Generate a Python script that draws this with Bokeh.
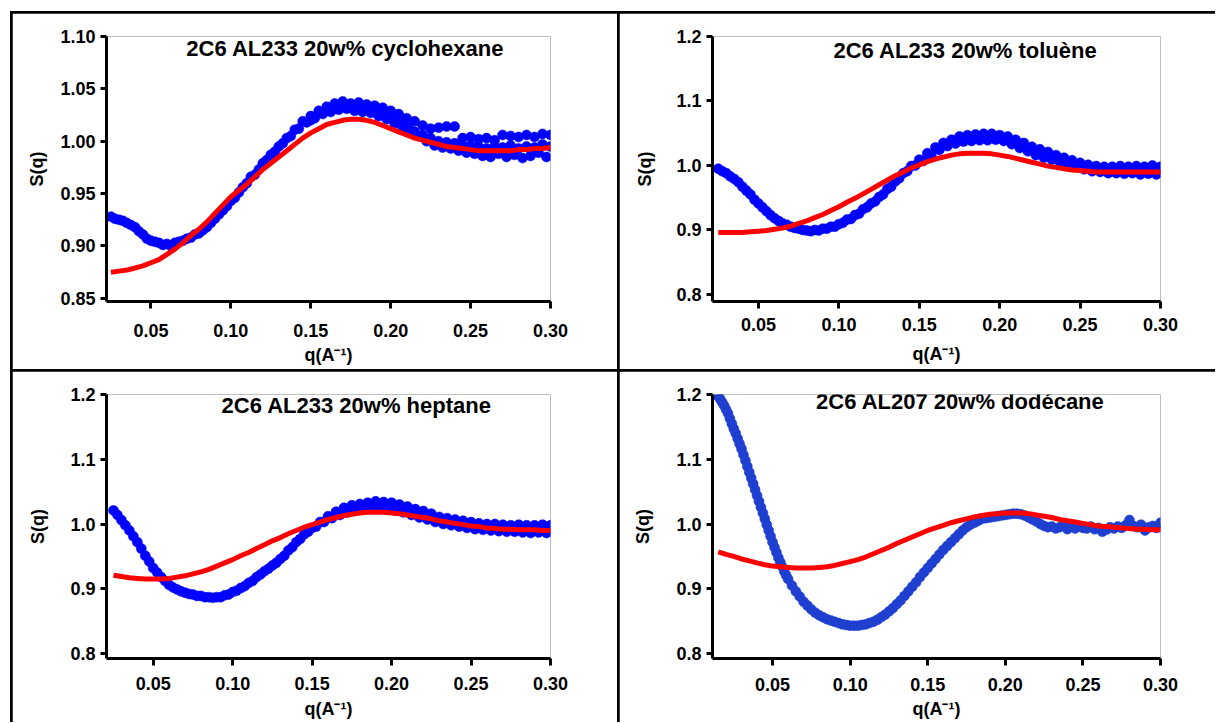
from bokeh.plotting import figure
from bokeh.models import GridBox, Spacer, Column, Row, Label, FixedTicker, NumeralTickFormatter, Range1d
from bokeh.embed import file_html
from bokeh.resources import INLINE

# ---------------- data ----------------
q_main = [0.025, 0.0275, 0.03, 0.0325, 0.035, 0.0375, 0.04, 0.0425, 0.045, 0.0475,
          0.05, 0.0525, 0.055, 0.0575, 0.06, 0.0625, 0.065, 0.0675, 0.07, 0.0725,
          0.075, 0.0775, 0.08, 0.0825, 0.085, 0.0875, 0.09, 0.0925, 0.095, 0.0975,
          0.1, 0.1025, 0.105, 0.1075, 0.11, 0.1125, 0.115, 0.1175, 0.12, 0.1225,
          0.125, 0.1275, 0.13, 0.1325, 0.135, 0.1375, 0.14, 0.1425, 0.145, 0.1475,
          0.15, 0.1525, 0.155, 0.1575, 0.16, 0.1625, 0.165, 0.1675, 0.17, 0.1725,
          0.175, 0.1775, 0.18, 0.1825, 0.185, 0.1875, 0.19, 0.1925, 0.195, 0.1975,
          0.2, 0.2025, 0.205, 0.2075, 0.21, 0.2125, 0.215, 0.2175, 0.22, 0.2225,
          0.225, 0.2275, 0.23, 0.2325, 0.235, 0.2375, 0.24, 0.2425, 0.245, 0.2475,
          0.25, 0.2525, 0.255, 0.2575, 0.26, 0.2625, 0.265, 0.2675, 0.27, 0.2725,
          0.275, 0.2775, 0.28, 0.2825, 0.285, 0.2875, 0.29, 0.2925, 0.295, 0.2975, 0.3]

q_dod_low = [0.015, 0.01625, 0.0175, 0.01875, 0.02, 0.02125, 0.0225, 0.02375, 0.025, 0.02625,
             0.0275, 0.02875, 0.03, 0.03125, 0.0325, 0.03375, 0.035, 0.03625, 0.0375, 0.03875,
             0.04, 0.04125, 0.0425, 0.04375, 0.045, 0.04625, 0.0475, 0.04875, 0.05, 0.05125,
             0.0525, 0.05375, 0.055, 0.05625, 0.0575, 0.05875, 0.06]
q_dod = q_dod_low + q_main[15:]

q_fit = [0.025, 0.03, 0.035, 0.04, 0.045, 0.05, 0.055, 0.06, 0.065, 0.07,
         0.075, 0.08, 0.085, 0.09, 0.095, 0.1, 0.105, 0.11, 0.115, 0.12,
         0.125, 0.13, 0.135, 0.14, 0.145, 0.15, 0.155, 0.16, 0.165, 0.17,
         0.175, 0.18, 0.185, 0.19, 0.195, 0.2, 0.205, 0.21, 0.215, 0.22,
         0.225, 0.23, 0.235, 0.24, 0.245, 0.25, 0.255, 0.26, 0.265, 0.27,
         0.275, 0.28, 0.285, 0.29, 0.295, 0.3]
q_fit_dod = [0.015, 0.02] + q_fit

# cyclohexane
s_cyclohexane = [0.928, 0.926, 0.925, 0.924, 0.922, 0.920, 0.918, 0.914, 0.911, 0.907,
                 0.905, 0.904, 0.903, 0.901, 0.902, 0.900, 0.903, 0.904, 0.905, 0.907,
                 0.908, 0.911, 0.912, 0.915, 0.918, 0.922, 0.926, 0.930, 0.934, 0.938,
                 0.943, 0.946, 0.951, 0.956, 0.960, 0.966, 0.968, 0.973, 0.979, 0.982,
                 0.987, 0.990, 0.995, 0.998, 1.003, 1.005, 1.011, 1.012, 1.019, 1.018,
                 1.024, 1.022, 1.029, 1.026, 1.033, 1.028, 1.036, 1.030, 1.038, 1.031,
                 1.036, 1.029, 1.037, 1.028, 1.035, 1.027, 1.034, 1.024, 1.032, 1.021,
                 1.029, 1.017, 1.026, 1.013, 1.022, 1.010, 1.019, 1.005, 1.015, 1.000,
                 1.012, 0.996, 1.013, 0.994, 1.014, 0.993, 1.014, 0.991, 1.003, 0.989,
                 1.004, 0.988, 1.002, 0.986, 1.003, 0.985, 1.001, 0.988, 1.006, 0.985,
                 1.005, 0.987, 1.004, 0.984, 1.006, 0.986, 1.004, 0.989, 1.007, 0.985, 1.006]
q_cyclohexane_b = q_fit[25:]
s_cyclohexane_b = [1.020, 1.027, 1.029, 1.032, 1.033, 1.032, 1.034, 1.030, 1.031, 1.026,
                   1.023, 1.020, 1.014, 1.009, 1.006, 1.003, 1.000, 0.999, 0.998, 0.996,
                   0.996, 0.995, 0.993, 0.995, 0.994, 0.996, 0.993, 0.995, 0.994, 0.997, 0.995]
fit_cyclohexane = [0.875, 0.876, 0.877, 0.879, 0.881, 0.884, 0.887, 0.892, 0.897, 0.903,
                   0.910, 0.916, 0.923, 0.931, 0.939, 0.947, 0.953, 0.959, 0.966, 0.973,
                   0.979, 0.985, 0.991, 0.997, 1.003, 1.008, 1.012, 1.016, 1.018, 1.020,
                   1.021, 1.021, 1.020, 1.018, 1.015, 1.012, 1.009, 1.006, 1.003, 1.001,
                   0.999, 0.997, 0.995, 0.994, 0.993, 0.992, 0.991, 0.991, 0.991, 0.991,
                   0.991, 0.992, 0.992, 0.993, 0.993, 0.994]

# toluene
s_toluene = [0.995, 0.991, 0.988, 0.983, 0.979, 0.974, 0.967, 0.961, 0.955, 0.947,
             0.941, 0.935, 0.929, 0.923, 0.918, 0.914, 0.910, 0.908, 0.905, 0.903,
             0.902, 0.900, 0.899, 0.898, 0.900, 0.899, 0.902, 0.902, 0.905, 0.905,
             0.909, 0.911, 0.916, 0.917, 0.923, 0.925, 0.932, 0.935, 0.941, 0.944,
             0.951, 0.955, 0.963, 0.967, 0.975, 0.980, 0.988, 0.991, 0.999, 1.000,
             1.009, 1.007, 1.019, 1.015, 1.028, 1.024, 1.035, 1.030, 1.040, 1.034,
             1.045, 1.037, 1.047, 1.038, 1.048, 1.039, 1.049, 1.039, 1.049, 1.040,
             1.047, 1.038, 1.045, 1.033, 1.040, 1.027, 1.035, 1.022, 1.029, 1.016,
             1.025, 1.012, 1.021, 1.009, 1.016, 1.005, 1.012, 1.002, 1.008, 0.998,
             1.004, 0.994, 1.001, 0.991, 0.999, 0.990, 0.998, 0.988, 0.998, 0.988,
             0.999, 0.987, 0.998, 0.988, 0.999, 0.986, 0.998, 0.987, 1.000, 0.986, 0.998]
fit_toluene = [0.896, 0.896, 0.896, 0.896, 0.897, 0.898, 0.899, 0.901, 0.903, 0.906,
               0.910, 0.914, 0.919, 0.924, 0.930, 0.936, 0.943, 0.949, 0.956, 0.963,
               0.970, 0.977, 0.984, 0.990, 0.996, 1.001, 1.006, 1.010, 1.013, 1.016,
               1.018, 1.019, 1.019, 1.019, 1.018, 1.016, 1.014, 1.011, 1.008, 1.005,
               1.002, 0.999, 0.997, 0.995, 0.993, 0.992, 0.991, 0.990, 0.990, 0.990,
               0.990, 0.990, 0.990, 0.990, 0.990, 0.990]

# heptane
s_heptane = [1.021, 1.014, 1.006, 0.998, 0.990, 0.981, 0.972, 0.962, 0.951, 0.942,
             0.932, 0.925, 0.918, 0.912, 0.906, 0.902, 0.899, 0.896, 0.894, 0.892,
             0.891, 0.889, 0.889, 0.887, 0.887, 0.886, 0.887, 0.887, 0.890, 0.891,
             0.895, 0.897, 0.901, 0.904, 0.909, 0.912, 0.918, 0.922, 0.927, 0.931,
             0.936, 0.940, 0.946, 0.951, 0.959, 0.964, 0.972, 0.977, 0.984, 0.988,
             0.994, 0.996, 1.003, 1.003, 1.012, 1.009, 1.019, 1.014, 1.025, 1.018,
             1.029, 1.021, 1.031, 1.023, 1.033, 1.024, 1.035, 1.024, 1.034, 1.023,
             1.033, 1.021, 1.030, 1.018, 1.027, 1.014, 1.023, 1.010, 1.020, 1.007,
             1.016, 1.003, 1.011, 1.000, 1.009, 0.998, 1.007, 0.996, 1.005, 0.994,
             1.003, 0.992, 1.001, 0.991, 1.000, 0.990, 1.000, 0.989, 0.999, 0.988,
             0.998, 0.988, 0.999, 0.987, 0.998, 0.986, 0.998, 0.987, 0.999, 0.986, 0.998]
fit_heptane = [0.921, 0.919, 0.917, 0.916, 0.915, 0.915, 0.915, 0.916, 0.918, 0.920,
               0.923, 0.926, 0.930, 0.935, 0.940, 0.945, 0.951, 0.956, 0.962, 0.968,
               0.974, 0.979, 0.985, 0.990, 0.995, 0.999, 1.003, 1.007, 1.010, 1.013,
               1.015, 1.017, 1.018, 1.018, 1.018, 1.017, 1.016, 1.014, 1.012, 1.010,
               1.008, 1.005, 1.003, 1.001, 0.999, 0.997, 0.996, 0.994, 0.993, 0.992,
               0.992, 0.991, 0.991, 0.991, 0.990, 0.990]

# dodecane
s_dodecane = [1.197, 1.193, 1.188, 1.183, 1.177, 1.171, 1.163, 1.155, 1.147, 1.140,
              1.132, 1.124, 1.116, 1.107, 1.098, 1.089, 1.080, 1.071, 1.062, 1.053,
              1.044, 1.035, 1.026, 1.017, 1.008, 0.999, 0.990, 0.981, 0.972, 0.964,
              0.956, 0.948, 0.941, 0.934, 0.927, 0.921, 0.915,
              0.905, 0.896, 0.888, 0.880, 0.874, 0.868, 0.863, 0.859, 0.856, 0.853,
              0.851, 0.849, 0.847, 0.845, 0.844, 0.843, 0.843, 0.843, 0.844, 0.845,
              0.847, 0.849, 0.852, 0.856, 0.860, 0.865, 0.870, 0.876, 0.882, 0.889,
              0.896, 0.903, 0.910, 0.918, 0.925, 0.932, 0.939, 0.946, 0.953, 0.960,
              0.966, 0.972, 0.978, 0.984, 0.990, 0.995, 0.999, 1.002, 1.005, 1.008,
              1.009, 1.010, 1.011, 1.012, 1.013, 1.014, 1.015, 1.016, 1.016, 1.015,
              1.013, 1.010, 1.007, 1.004, 1.000, 0.997, 0.995, 0.996, 0.993, 0.995,
              0.998, 0.992, 0.996, 0.993, 0.997, 0.994, 0.993, 0.996, 0.992, 0.994,
              0.988, 0.991, 0.995, 0.993, 0.996, 0.994, 0.998, 1.006, 0.997, 0.995,
              0.999, 0.990, 0.995, 0.997, 0.994, 1.002]
fit_dodecane = [0.957, 0.953, 0.950, 0.946, 0.943, 0.940, 0.937, 0.935, 0.934, 0.933,
                0.932, 0.932, 0.932, 0.933, 0.934, 0.936, 0.939, 0.942, 0.945, 0.949,
                0.954, 0.959, 0.964, 0.970, 0.975, 0.980, 0.985, 0.990, 0.994, 0.998,
                1.002, 1.005, 1.008, 1.011, 1.013, 1.015, 1.016, 1.017, 1.017, 1.017,
                1.016, 1.014, 1.012, 1.010, 1.007, 1.005, 1.003, 1.001, 0.999, 0.997,
                0.996, 0.995, 0.994, 0.993, 0.992, 0.992, 0.991, 0.991]

titles = ["2C6 AL233 20w% cyclohexane", "2C6 AL233 20w% toluène",
          "2C6 AL233 20w% heptane", "2C6 AL207 20w% dodécane"]
x_ticks = [0.05, 0.10, 0.15, 0.20, 0.25, 0.30]
y_ticks_fine = [0.85, 0.90, 0.95, 1.00, 1.05, 1.10]
y_ticks_coarse = [0.8, 0.9, 1.0, 1.1, 1.2]

assert len(q_main) == len(s_cyclohexane) == len(s_toluene) == len(s_heptane)
assert len(q_dod) == len(s_dodecane)
assert len(q_fit) == len(fit_cyclohexane) == len(fit_toluene) == len(fit_heptane)
assert len(q_fit_dod) == len(fit_dodecane)
assert len(q_cyclohexane_b) == len(s_cyclohexane_b)

FONT = "Liberation Sans"
RED = "#ff0000"


def make_panel(title, series, q_f, s_f, blue, x0, y0, y1, yticks, yfmt,
               w, h, mb_l, mb_r, mb_t, mb_b, title_q, title_s,
               x_std, xlab_std, ylab_std):
    p = figure(width=w, height=h, x_range=Range1d(x0, 0.30), y_range=Range1d(y0, y1),
               output_backend="svg", toolbar_location=None,
               min_border_left=mb_l, min_border_right=mb_r,
               min_border_top=mb_t, min_border_bottom=mb_b)
    p.outline_line_color = None
    p.grid.visible = False
    p.background_fill_color = "white"
    p.border_fill_color = "white"
    for qs, ss in series:
        p.scatter(qs, ss, marker="circle", size=10, fill_color=blue,
                  line_color=blue, line_width=0.5)
    p.line(q_f, s_f, line_color=RED, line_width=5)

    for ax in (p.xaxis[0], p.yaxis[0]):
        ax.axis_line_width = 3
        ax.axis_line_color = "black"
        ax.major_tick_line_width = 3
        ax.major_tick_line_color = "black"
        ax.major_tick_in = 0
        ax.minor_tick_line_color = None
        ax.major_label_text_font = FONT
        ax.major_label_text_font_style = "bold"
        ax.major_label_text_font_size = "18px"
        ax.major_label_text_color = "black"
        ax.axis_label_text_font = FONT
        ax.axis_label_text_font_style = "bold"
        ax.axis_label_text_font_size = "18px"
        ax.axis_label_text_color = "black"
    xa, ya = p.xaxis[0], p.yaxis[0]
    xa.ticker = FixedTicker(ticks=x_ticks)
    xa.formatter = NumeralTickFormatter(format="0.00")
    xa.major_tick_out = 7
    xa.major_label_standoff = x_std
    xa.axis_label = "q(A\u207b\u00b9)"
    xa.axis_label_standoff = xlab_std
    ya.ticker = FixedTicker(ticks=yticks)
    ya.formatter = NumeralTickFormatter(format=yfmt)
    ya.major_tick_out = 6
    ya.major_label_standoff = 5
    ya.axis_label = "S(q)"
    ya.axis_label_standoff = ylab_std

    p.add_layout(Label(x=title_q, y=title_s, text=title, text_align="center",
                       text_baseline="middle", text_font=FONT, text_font_style="bold",
                       text_font_size="22px", text_color="black"))
    return p


p1 = make_panel(titles[0], [(q_main, s_cyclohexane), (q_cyclohexane_b, s_cyclohexane_b)],
                q_fit, fit_cyclohexane, "#0000ff", 0.0222, 0.847, 1.10, y_ticks_fine, "0.00",
                605, 356, 94, 61, 20, 61, 0.1716, 1.089, 15, 5, 10)
p2 = make_panel(titles[1], [(q_main, s_toluene)],
                q_fit, fit_toluene, "#0000ff", 0.0214, 0.789, 1.20, y_ticks_coarse, "0.0",
                596, 356, 93, 55, 23, 68, 0.1787, 1.178, 9, 10, 18)
p3 = make_panel(titles[2], [(q_main, s_heptane)],
                q_fit, fit_heptane, "#0000ff", 0.0206, 0.7923, 1.20, y_ticks_coarse, "0.0",
                605, 351, 91, 67, 23, 64, 0.178, 1.183, 11, 6, 19)
p4 = make_panel(titles[3], [(q_dod, s_dodecane)],
                q_fit_dod, fit_dodecane, "#1f3fd0", 0.0113, 0.7923, 1.20, y_ticks_coarse, "0.0",
                596, 351, 93, 55, 23, 64, 0.171, 1.189, 12, 5, 20)

grid = GridBox(children=[(Spacer(width=0, height=0), 0, 0),
                         (p1, 1, 1), (p2, 1, 2), (p3, 2, 1), (p4, 2, 2)],
               spacing=2, styles={"background-color": "black"})

root = Column(children=[Spacer(width=10, height=11),
                        Row(children=[Spacer(width=10, height=10), grid])])

open("out.html", "w").write(file_html(root, INLINE))
